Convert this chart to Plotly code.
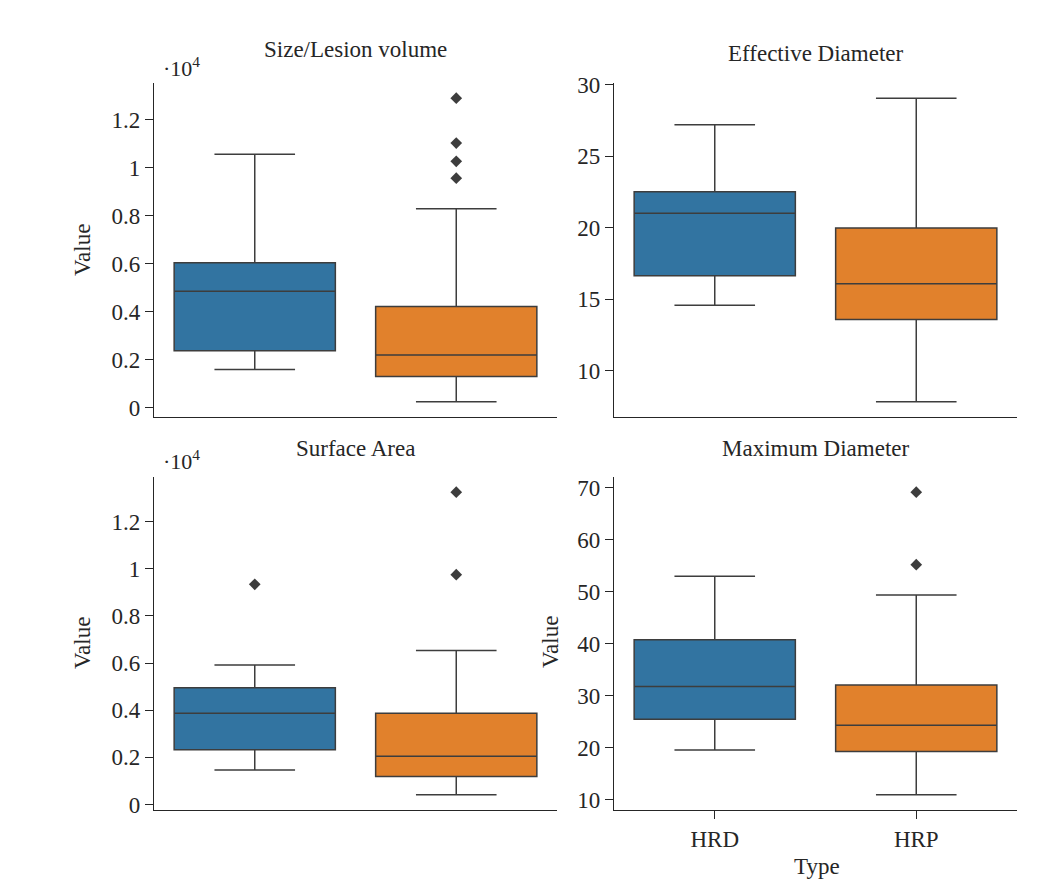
import plotly.graph_objects as go

# ---------------- data ----------------
types = ["HRD", "HRP"]

vol_lower = [1600, 250]
vol_q1 = [2380, 1300]
vol_median = [4850, 2200]
vol_q3 = [6040, 4220]
vol_upper = [10560, 8290]
vol_out_hrd = []
vol_out_hrp = [9560, 10260, 11020, 12890]

eff_lower = [14.59, 7.84]
eff_q1 = [16.65, 13.6]
eff_median = [21.03, 16.09]
eff_q3 = [22.53, 20.0]
eff_upper = [27.21, 29.07]
eff_out_hrd = []
eff_out_hrp = []

surf_lower = [1460, 410]
surf_q1 = [2320, 1190]
surf_median = [3870, 2050]
surf_q3 = [4950, 3870]
surf_upper = [5920, 6530]
surf_out_hrd = [9340]
surf_out_hrp = [9750, 13250]

maxd_lower = [19.6, 10.96]
maxd_q1 = [25.5, 19.3]
maxd_median = [31.8, 24.35]
maxd_q3 = [40.77, 32.1]
maxd_upper = [53.0, 49.4]
maxd_out_hrd = []
maxd_out_hrp = [55.2, 69.15]

sci_tickvals = [0, 2000, 4000, 6000, 8000, 10000, 12000]
sci_ticktext = ["0", "0.2", "0.4", "0.6", "0.8", "1", "1.2"]
eff_tickvals = [10, 15, 20, 25, 30]
maxd_tickvals = [10, 20, 30, 40, 50, 60, 70]

titles = ["Size/Lesion volume", "Effective Diameter", "Surface Area", "Maximum Diameter"]

# ---------------- style ----------------
W, H = 1045, 881
FONT = "Liberation Serif"
FS = 23
TXT = "#262626"
box_colors = ["#3274a1", "#e1812c"]
edge = "#3d3d3d"

panels = [
    dict(lower=vol_lower, q1=vol_q1, med=vol_median, q3=vol_q3, upper=vol_upper,
         outs=[vol_out_hrd, vol_out_hrp], ax="", tv=sci_tickvals, tt=sci_ticktext,
         xd=(154, 557), yd=(83, 417)),
    dict(lower=eff_lower, q1=eff_q1, med=eff_median, q3=eff_q3, upper=eff_upper,
         outs=[eff_out_hrd, eff_out_hrp], ax="2", tv=eff_tickvals, tt=None,
         xd=(614, 1017), yd=(83, 417)),
    dict(lower=surf_lower, q1=surf_q1, med=surf_median, q3=surf_q3, upper=surf_upper,
         outs=[surf_out_hrd, surf_out_hrp], ax="3", tv=sci_tickvals, tt=sci_ticktext,
         xd=(154, 557), yd=(477, 810)),
    dict(lower=maxd_lower, q1=maxd_q1, med=maxd_median, q3=maxd_q3, upper=maxd_upper,
         outs=[maxd_out_hrd, maxd_out_hrp], ax="4", tv=maxd_tickvals, tt=None,
         xd=(614, 1017), yd=(477, 810)),
]

fig = go.Figure()
layout = dict(
    width=W, height=H,
    margin=dict(l=0, r=0, t=0, b=0, autoexpand=False),
    paper_bgcolor="white", plot_bgcolor="white",
    showlegend=False,
    font=dict(family=FONT, size=FS, color=TXT),
    annotations=[],
)

for pi, p in enumerate(panels):
    xa = "x" + p["ax"]
    ya = "y" + p["ax"]
    for i, t in enumerate(types):
        fig.add_trace(go.Box(
            x=[i], q1=[p["q1"][i]], median=[p["med"][i]], q3=[p["q3"][i]],
            lowerfence=[p["lower"][i]], upperfence=[p["upper"][i]],
            width=0.8, whiskerwidth=0.5, boxpoints=False,
            fillcolor=box_colors[i], line=dict(color=edge, width=1.5),
            name=t, xaxis=xa, yaxis=ya, hoverinfo="skip",
        ))
        if p["outs"][i]:
            fig.add_trace(go.Scatter(
                x=[i] * len(p["outs"][i]), y=p["outs"][i], mode="markers",
                marker=dict(symbol="diamond", size=9, color=edge),
                xaxis=xa, yaxis=ya, hoverinfo="skip",
            ))
    allv = p["lower"] + p["upper"] + p["outs"][0] + p["outs"][1]
    lo, hi = min(allv), max(allv)
    pad = 0.05 * (hi - lo)
    bottom_right = pi == 3
    xkey = "xaxis" + p["ax"]
    ykey = "yaxis" + p["ax"]
    layout[xkey] = dict(
        domain=[p["xd"][0] / W, p["xd"][1] / W], range=[-0.5, 1.5],
        anchor=ya, showline=True, linecolor=TXT, linewidth=1.3,
        showgrid=False, zeroline=False, automargin=False,
        ticks="outside" if bottom_right else "", ticklen=8, tickcolor=TXT, tickwidth=1.3,
        tickvals=[0, 1], ticktext=types, showticklabels=bottom_right,
        tickfont=dict(family=FONT, size=FS, color=TXT),
    )
    yd = dict(
        domain=[1 - p["yd"][1] / H, 1 - p["yd"][0] / H], range=[lo - pad, hi + pad],
        anchor=xa, showline=True, linecolor=TXT, linewidth=1.3,
        showgrid=False, zeroline=False, automargin=False,
        ticks="outside", ticklen=8, tickcolor=TXT, tickwidth=1.3,
        tickvals=p["tv"], tickfont=dict(family=FONT, size=FS, color=TXT),
    )
    if p["tt"] is not None:
        yd["ticktext"] = p["tt"]
    layout[ykey] = yd


def ann(text, px, py, size=FS, angle=0, yanchor="middle"):
    layout["annotations"].append(dict(
        text=text, x=px / W, y=1 - py / H, xref="paper", yref="paper",
        xanchor="center", yanchor=yanchor, showarrow=False, textangle=angle,
        font=dict(family=FONT, size=size, color=TXT),
    ))


ann(titles[0], 355, 49)
ann(titles[1], 816, 54)
ann(titles[2], 355, 448)
ann(titles[3], 816, 448)
ann("·10<sup>4</sup>", 181, 67, size=22)
ann("·10<sup>4</sup>", 181, 460, size=22)
ann("Value", 82, 250, angle=-90)
ann("Value", 82, 643, angle=-90)
ann("Value", 550, 642, angle=-90)
ann("Type", 817, 881, yanchor="bottom")

fig.update_layout(**layout)
fig.write_html(
    "out.html",
    config={"displayModeBar": False, "responsive": False},
    post_script="document.body.style.margin='0';document.body.style.overflow='hidden';",
)
